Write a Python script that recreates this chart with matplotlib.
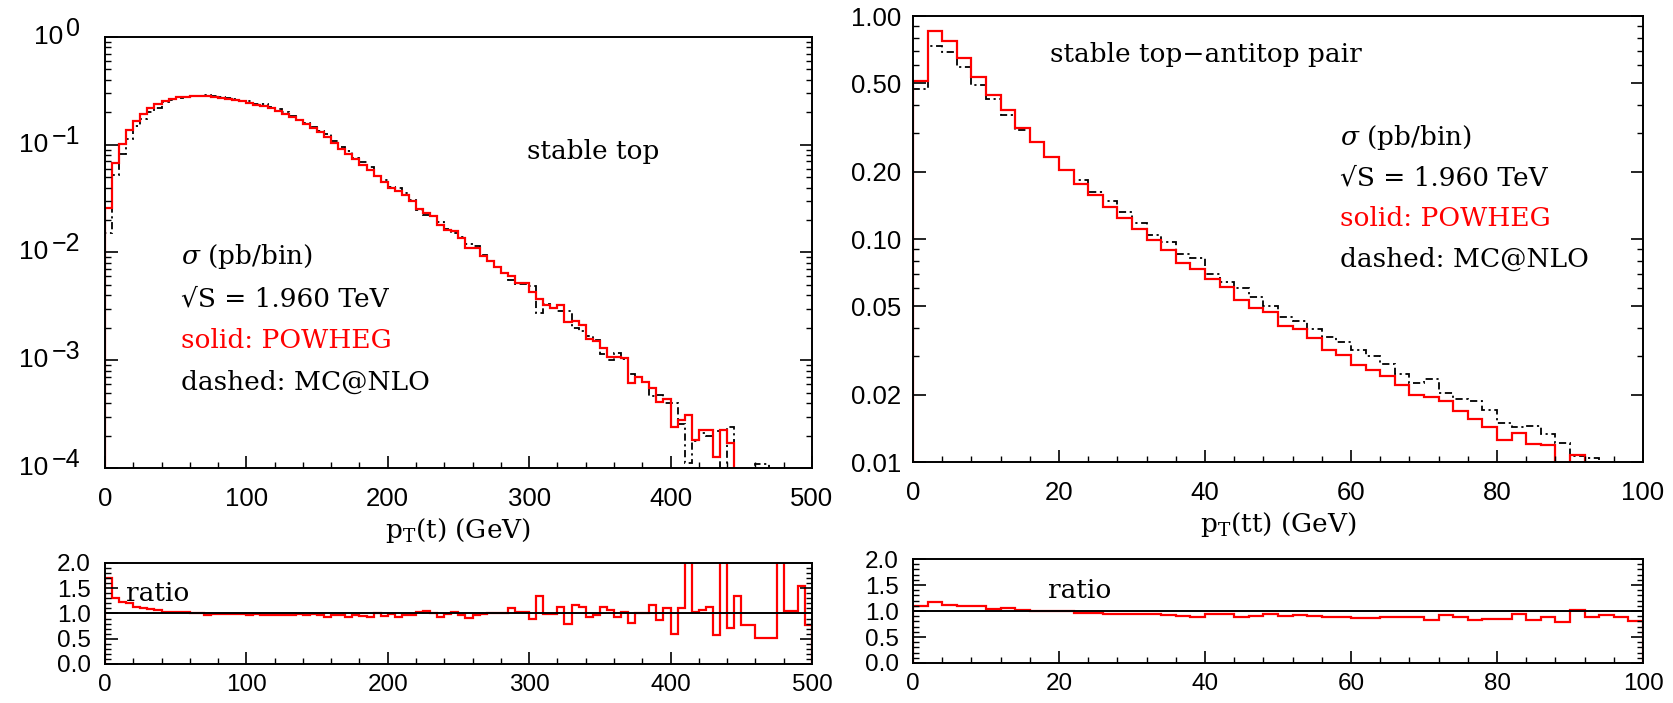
import numpy as np
import matplotlib
matplotlib.use('Agg')
import matplotlib.pyplot as plt
from matplotlib.ticker import MultipleLocator, LogLocator, FixedLocator, NullFormatter, FixedFormatter

# ---------------- data ----------------
# left: stable top, pT(t), 5 GeV bins from 0 to 500
top_edges = np.arange(0, 505, 5)
top_powheg = [
    0.026, 0.068, 0.101, 0.137, 0.167, 0.192, 0.217, 0.237, 0.254, 0.267,
    0.275, 0.280, 0.284, 0.285, 0.283, 0.279, 0.274, 0.268, 0.260, 0.252,
    0.245, 0.236, 0.227, 0.217, 0.206, 0.194, 0.181, 0.168, 0.155, 0.143,
    0.130, 0.117, 0.104, 0.092, 0.082, 0.073, 0.065, 0.058, 0.051, 0.045,
    0.040, 0.037, 0.0343, 0.0298, 0.0255, 0.0232, 0.0216, 0.0178, 0.0162, 0.0157,
    0.0136, 0.0110, 0.0110, 0.0093, 0.0084, 0.0074, 0.0065, 0.0061, 0.0052, 0.0052,
    0.00434, 0.00371, 0.00327, 0.00304, 0.00327, 0.00225, 0.00232, 0.00213, 0.00157, 0.00150,
    0.00129, 0.00108, 0.00108, 0.00104, 0.00061, 0.00070, 0.00063, 0.00055, 0.00041, 0.00044,
    0.000242, 0.000279, 0.00031, 0.000182, 0.000225, 0.000225, 0.000127, 0.000225, 0.000169, 8e-5,
    6e-5, 5e-5, 5.6e-5, 5.6e-5, 4e-5, 9e-5, 3e-5, 3e-5, 4e-5, 2e-5]
# POWHEG / MC@NLO
top_ratio = [
    1.70, 1.31, 1.23, 1.20, 1.13, 1.10, 1.08, 1.07, 1.03, 1.03,
    1.02, 1.02, 1.01, 1.01, 0.97, 0.98, 0.99, 0.99, 0.98, 0.99,
    0.97, 0.98, 0.96, 0.97, 0.97, 0.97, 0.97, 0.98, 0.97, 0.98,
    0.96, 0.94, 0.97, 0.96, 0.93, 0.97, 0.95, 0.94, 1.00, 0.95,
    0.98, 0.93, 0.97, 0.97, 1.03, 1.04, 1.00, 0.93, 0.99, 1.03,
    0.97, 0.92, 0.96, 0.99, 1.00, 1.00, 1.00, 1.11, 1.02, 1.02,
    0.89, 1.34, 0.99, 0.99, 1.13, 0.79, 1.17, 1.13, 0.94, 0.97,
    1.13, 1.07, 0.93, 1.02, 0.82, 1.00, 1.00, 1.17, 0.87, 1.10,
    0.60, 1.10, 2.80, 1.02, 1.06, 1.13, 0.58, 3.00, 0.71, 1.35,
    0.77, 0.77, 0.51, 0.51, 0.51, 3.00, 1.04, 1.04, 1.54, 0.77]

# right: stable top-antitop pair, pT(tt), 2 GeV bins from 0 to 100
pair_edges = np.arange(0, 102, 2)
pair_powheg = [
    0.511, 0.859, 0.772, 0.646, 0.532, 0.442, 0.379, 0.316, 0.272, 0.234,
    0.204, 0.176, 0.157, 0.139, 0.124, 0.111, 0.0995, 0.0891, 0.0782, 0.0735,
    0.0665, 0.061, 0.0535, 0.0493, 0.0471, 0.0406, 0.0393, 0.0361, 0.0319, 0.0303,
    0.0273, 0.0258, 0.0243, 0.0221, 0.0199, 0.0196, 0.0188, 0.0169, 0.0156, 0.0144,
    0.0126, 0.0135, 0.0121, 0.0119, 0.0095, 0.0108, 0.0092, 0.0082, 0.0074, 0.0066]
pair_ratio = [
    1.09, 1.17, 1.12, 1.09, 1.09, 1.04, 1.05, 1.02, 1.00, 1.00,
    1.00, 0.96, 0.97, 0.94, 0.94, 0.94, 0.95, 0.92, 0.91, 0.89,
    0.95, 0.95, 0.89, 0.90, 0.94, 0.91, 0.92, 0.91, 0.88, 0.88,
    0.86, 0.86, 0.88, 0.89, 0.88, 0.83, 0.92, 0.88, 0.83, 0.84,
    0.84, 0.94, 0.83, 0.89, 0.78, 1.01, 0.88, 0.92, 0.89, 0.81]

# MC@NLO histograms follow from the two read series
top_mcnlo = np.array(top_powheg) / np.array(top_ratio)
pair_mcnlo = np.array(pair_powheg) / np.array(pair_ratio)

info_lines = [r'$\sigma$ (pb/bin)', '\u221aS = 1.960 TeV', 'solid: POWHEG', 'dashed: MC@NLO']
info_colors = ['black', 'black', 'red', 'black']
decades = [1, 1e-1, 1e-2, 1e-3, 1e-4]
decade_exps = ['0', '\u22121', '\u22122', '\u22123', '\u22124']

plt.rcParams['font.family'] = ['DejaVu Serif', 'DejaVu Sans']
plt.rcParams['mathtext.fontset'] = 'custom'
plt.rcParams['mathtext.rm'] = 'DejaVu Serif'
plt.rcParams['mathtext.it'] = 'DejaVu Serif:italic'
plt.rcParams['axes.linewidth'] = 1.4

fig = plt.figure(figsize=(16.74, 7.03), dpi=100)
ax1 = fig.add_axes([0.0627, 0.3343, 0.4223, 0.6131])
ax2 = fig.add_axes([0.5454, 0.3428, 0.4361, 0.6344])
ax3 = fig.add_axes([0.0627, 0.0555, 0.4223, 0.1437])
ax4 = fig.add_axes([0.5454, 0.0569, 0.4361, 0.1479])

dash = (0, (4, 2, 1.2, 2))
TS = 18.5   # tick label size
AS = 19     # annotation size


def style(ax, ypad=6, xpad=14, size=TS):
    ax.tick_params(which='both', direction='in', top=False, right=True)
    ax.tick_params(which='major', length=9, width=1.2, labelsize=size)
    ax.tick_params(which='minor', length=4.5, width=1.0)
    ax.tick_params(axis='x', which='major', pad=xpad)
    ax.tick_params(axis='y', which='major', pad=ypad)
    for lab in ax.get_xticklabels() + ax.get_yticklabels():
        lab.set_fontfamily('Liberation Sans')


# ---- left main ----
ax1.stairs(top_mcnlo, top_edges, baseline=1e-7, color='black', lw=1.3, linestyle=dash)
ax1.stairs(top_powheg, top_edges, baseline=1e-7, color='red', lw=1.6)
ax1.set_yscale('log')
ax1.set_xlim(0, 500)
ax1.set_ylim(1e-4, 1)
ax1.xaxis.set_major_locator(MultipleLocator(100))
ax1.xaxis.set_minor_locator(MultipleLocator(20))
ax1.yaxis.set_major_locator(FixedLocator(decades))
ax1.yaxis.set_major_formatter(NullFormatter())
ax1.yaxis.set_minor_locator(LogLocator(base=10, subs=np.arange(2, 10), numticks=20))
ax1.yaxis.set_minor_formatter(NullFormatter())
style(ax1)
# power-of-ten labels with a full size exponent, as in the original
for val, ex in zip(decades, decade_exps):
    et = ax1.annotate(ex, xy=(0, val), xycoords=('axes fraction', 'data'),
                      xytext=(-25, 8), textcoords='offset pixels', ha='right', va='center',
                      fontsize=18, family='Liberation Sans', annotation_clip=False)
    ax1.annotate('10', xy=(0, 0.5), xycoords=et, xytext=(-3, -8), textcoords='offset pixels',
                 ha='right', va='center', fontsize=19, family='Liberation Sans',
                 annotation_clip=False)
ax1.set_xlabel(r'p$_\mathrm{T}$(t) (GeV)', fontsize=AS, labelpad=3.5)
ax1.text(0.69, 0.735, 'stable top', transform=ax1.transAxes, fontsize=AS, ha='center', va='center')
for i, (s, c) in enumerate(zip(info_lines, info_colors)):
    ax1.text(0.107, 0.49 - i * 0.097, s, transform=ax1.transAxes, fontsize=AS, color=c,
             va='center')

# ---- right main ----
ax2.stairs(pair_mcnlo, pair_edges, baseline=1e-7, color='black', lw=1.3, linestyle=dash)
ax2.stairs(pair_powheg, pair_edges, baseline=1e-7, color='red', lw=1.6)
ax2.set_yscale('log')
ax2.set_xlim(0, 100)
ax2.set_ylim(0.01, 1.0)
ax2.xaxis.set_major_locator(MultipleLocator(20))
ax2.xaxis.set_minor_locator(MultipleLocator(4))
major_y = [0.01, 0.02, 0.05, 0.10, 0.20, 0.50, 1.00]
ax2.yaxis.set_major_locator(FixedLocator(major_y))
ax2.yaxis.set_major_formatter(FixedFormatter(['%.2f' % v for v in major_y]))
ax2.yaxis.set_minor_locator(FixedLocator([0.03, 0.04, 0.06, 0.07, 0.08, 0.09,
                                          0.3, 0.4, 0.6, 0.7, 0.8, 0.9]))
ax2.yaxis.set_minor_formatter(NullFormatter())
style(ax2, ypad=8.5)
ax2.set_xlabel(r'p$_\mathrm{T}$(tt) (GeV)', fontsize=AS, labelpad=3.5)
ax2.text(0.187, 0.913, 'stable top\u2212antitop pair', transform=ax2.transAxes, fontsize=AS,
         va='center')
for i, (s, c) in enumerate(zip(info_lines, info_colors)):
    ax2.text(0.585, 0.728 - i * 0.091, s, transform=ax2.transAxes, fontsize=AS, color=c,
             va='center')

# ---- ratio panels ----
for ax, edges, ratio, xmax, maj, mnr, tx in [
        (ax3, top_edges, top_ratio, 500, 100, 20, 0.03),
        (ax4, pair_edges, pair_ratio, 100, 20, 4, 0.185)]:
    ax.stairs(ratio, edges, baseline=0, color='red', lw=1.6)
    ax.axhline(1.0, color='black', lw=1.4, zorder=3)
    ax.set_xlim(0, xmax)
    ax.set_ylim(0, 2)
    ax.xaxis.set_major_locator(MultipleLocator(maj))
    ax.xaxis.set_minor_locator(MultipleLocator(mnr))
    ax.yaxis.set_major_locator(MultipleLocator(0.5))
    ax.yaxis.set_minor_locator(MultipleLocator(0.1))
    ax.yaxis.set_major_formatter(plt.FormatStrFormatter('%.1f'))
    style(ax, ypad=10, xpad=7, size=17.5)
    ax.text(tx, 0.7, 'ratio', transform=ax.transAxes, fontsize=AS, va='center')

plt.savefig('out.png', dpi=100)
